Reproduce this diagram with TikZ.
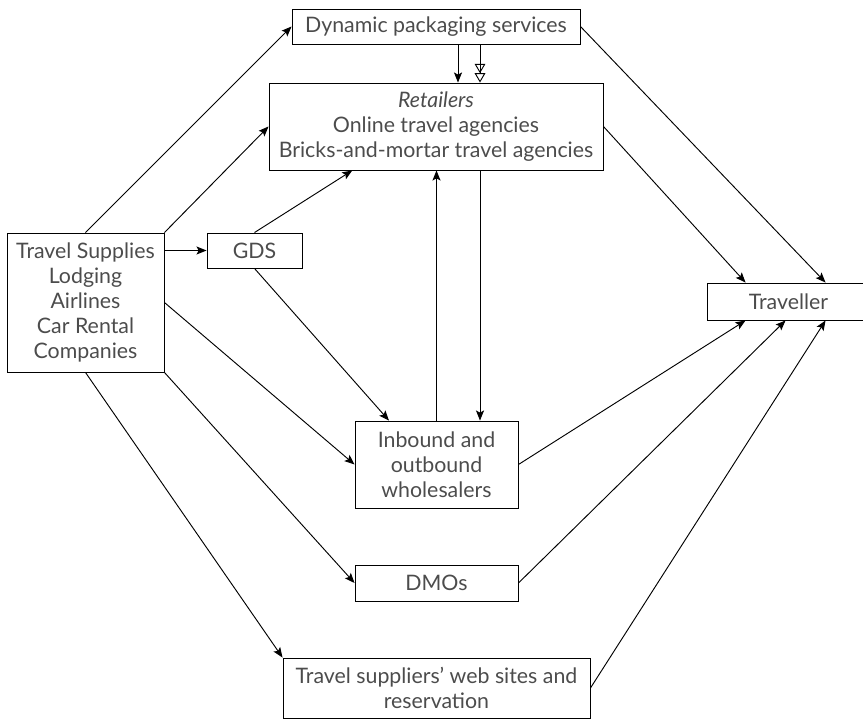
\documentclass[tikz,border=0pt]{standalone}
\usepackage{fontspec}
\setmainfont{Lato}
\usepackage{tikz}
\usetikzlibrary{arrows.meta,calc,positioning}

\tikzset{
  box/.style={draw, line width=0.7pt, align=center, inner sep=0pt, text=black!70},
  arr/.style={line width=0.7pt, -{Stealth[length=7.5pt,width=6pt,inset=1.5pt]}},
  dblarr/.style={line width=0.7pt, -{Triangle[open,length=7pt,width=8pt]Triangle[open,length=7pt,width=8pt]}}
}

\begin{document}
\begin{tikzpicture}[x=0.75pt,y=-0.75pt,font=\fontsize{16}{18.75}\selectfont]
  \useasboundingbox (0,0) rectangle (863,720);
  % boxes
  \node[box,minimum width=216pt,minimum height=26.25pt] (dyn) at (436,26.5) {Dynamic packaging services};
  \node[box,minimum width=250.5pt,minimum height=65.25pt] (ret) at (436,126.5)
    {\textit{Retailers}\\Online travel agencies\\Bricks-and-mortar travel agencies};
  \node[box,minimum width=117.75pt,minimum height=104.25pt] (sup) at (85.5,302.5)
    {Travel Supplies\\Lodging\\Airlines\\Car Rental\\Companies};
  \node[box,minimum width=71.25pt,minimum height=26.25pt] (gds) at (254.5,250.5) {GDS};
  \node[box,minimum width=122.25pt,minimum height=27.75pt,text width=114pt] (trav) at (788.5,301.5) {Traveller};
  \node[box,minimum width=122.25pt,minimum height=65.25pt] (inb) at (436.5,464.5)
    {Inbound and\\outbound\\wholesalers};
  \node[box,minimum width=122.25pt,minimum height=27pt] (dmo) at (436.5,583) {DMOs};
  \node[box,minimum width=230.25pt,minimum height=45pt] (web) at (436.5,688)
    {Travel suppliers' web sites and\\reservation};

  % from the suppliers
  \draw[arr] (sup.north) -- (dyn.west);
  \draw[arr] (sup.north east) -- (ret.west);
  \draw[arr] (sup.east |- gds.west) -- (gds.west);
  \draw[arr] (gds.north) -- ($(ret.south west)!0.25!(ret.south east)$);
  \draw[arr] (gds.south) -- ($(inb.north west)!0.21!(inb.north east)$);
  \draw[arr] (sup.east) -- (inb.west);
  \draw[arr] (sup.south east) -- (dmo.west);
  \draw[arr] (sup.south) -- (web.north west);

  % between packaging, retailers and wholesalers
  \draw[arr] ($(dyn.south)+(22,0)$) -- ($(ret.north)+(22,0)$);
  \draw[dblarr] ($(dyn.south)+(44,0)$) -- ($(ret.north)+(44,0)$);
  \draw[arr] (inb.north) -- (inb.north |- ret.south);
  \draw[arr] ($(ret.south)+(44,0)$) -- ($(inb.north)+(43.5,0)$);

  % to the traveller
  \draw[arr] (dyn.east) -- ($(trav.north west)+(119,0)$);
  \draw[arr] (ret.east) -- ($(trav.north west)+(39,0)$);
  \draw[arr] (inb.east) -- ($(trav.south west)+(39,0)$);
  \draw[arr] (dmo.east) -- ($(trav.south west)+(79,0)$);
  \draw[arr] (web.east) -- ($(trav.south west)+(119,0)$);
\end{tikzpicture}
\end{document}
